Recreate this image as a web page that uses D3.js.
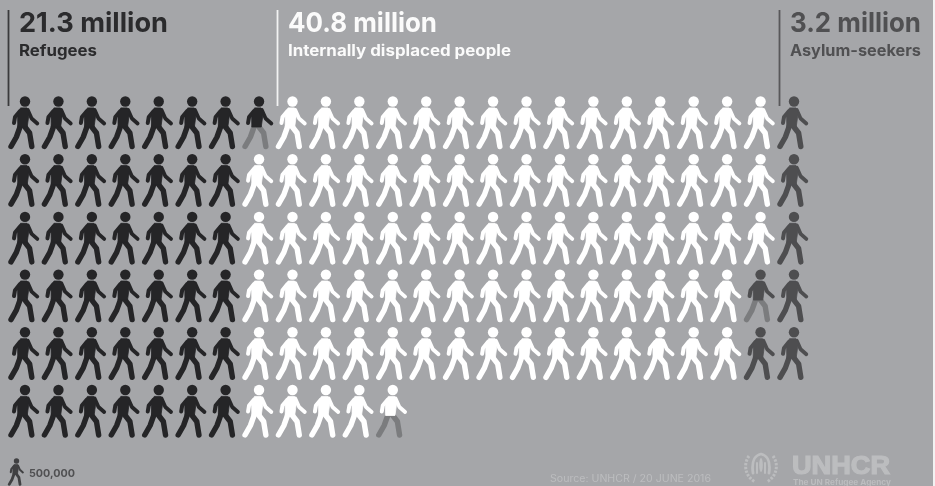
<!DOCTYPE html>
<html><head><meta charset="utf-8">
<script src="https://cdn.jsdelivr.net/npm/d3@7/dist/d3.min.js"></script>
<style>html,body{margin:0;padding:0;background:#a5a6a9;overflow:hidden}svg{display:block;filter:blur(0.45px)}</style>
</head><body><svg id="c" width="935" height="486"></svg>
<script>
// One figure = 500,000 people. Counts per row, left to right.
const rowIds = [0,1,2,3,4,5];
const refugeesFull    = [7,7,7,7,7,7];
const refugeesPartial = [1,0,0,0,0,0];
const idpFull         = [15,16,16,15,15,4];
const idpPartial      = [0,0,0,0,0,1];
const asylumPartial   = [0,0,0,1,0,0];
const asylumFull      = [1,1,1,1,2,0];
const columnCount = 24;
const headlines = ["21.3 million","40.8 million","3.2 million"];
const groupLabels = ["Refugees","Internally displaced people","Asylum-seekers"];
const legendLabel = "500,000";
const sourceLabel = "Source: UNHCR / 20 JUNE 2016";

const styles = {
  refugee:{top:"#252527",legs:"#252527"},
  refugeePart:{top:"#252527",legs:"#7b7c7e"},
  idp:{top:"#ffffff",legs:"#ffffff"},
  idpPart:{top:"#ffffff",legs:"#7b7c7e"},
  asylum:{top:"#4e4e50",legs:"#4e4e50"},
  asylumPart:{top:"#4e4e50",legs:"#7b7c7e"}
};
const cells=[];
rowIds.forEach(r=>{
  let c=0;
  const push=(n,t)=>{for(let i=0;i<n;i++)cells.push({row:r,col:c++,type:t});};
  push(refugeesFull[r],"refugee");
  push(refugeesPartial[r],"refugeePart");
  push(idpFull[r],"idp");
  push(idpPartial[r],"idpPart");
  push(asylumPartial[r],"asylumPart");
  push(asylumFull[r],"asylum");
});

const svg=d3.select("#c");
svg.append("rect").attr("width",935).attr("height",486).attr("fill","#a5a6a9");
svg.append("rect").attr("x",933).attr("width",2).attr("height",486).attr("fill","#f2f2f2");

const x=d3.scalePoint().domain(d3.range(columnCount)).range([25,794]);
const y=d3.scalePoint().domain(rowIds).range([101.5,390]);
const line=d3.line().curve(d3.curveLinear);

function figure(g,s){
  g.append("circle").attr("r",5.2).attr("fill",s.top);
  const limb=(pts,w,col)=>g.append("path").attr("d",line(pts)).attr("fill","none")
    .attr("stroke",col).attr("stroke-width",w).attr("stroke-linecap","round").attr("stroke-linejoin","round");
  // legs
  limb([[-4.5,24],[-8.6,35.5],[-14,45]],5.4,s.legs);
  limb([[-1.2,24],[4.6,31.5],[6.8,45]],5.4,s.legs);
  // arms
  limb([[-5,9.5],[-10,15.6],[-11,21.5]],4,s.top);
  limb([[2.8,8.5],[6.6,17],[12.3,22]],3.8,s.top);
  // torso
  g.append("path").attr("d","M-4.5,6.4 L2,6.4 L4.2,11 L2.2,25.5 L-7.2,25.5 L-7.4,13 Z").attr("fill",s.top)
   .attr("stroke",s.top).attr("stroke-width",.8).attr("stroke-linejoin","round");
}
svg.append("g").selectAll("g").data(cells).join("g")
  .attr("transform",d=>`translate(${x(d.col)},${y(d.row)})`)
  .each(function(d){figure(d3.select(this),styles[d.type]);});

const font="Inter, 'Noto Sans', sans-serif";
const heads=[{x:8,c:"#2b2b2d",l:"#3a3a3c",w1:149,w2:78},{x:277,c:"#fbfbfb",l:"#f2f2f2",w1:149,w2:223},{x:779,c:"#505052",l:"#58585a",w1:131,w2:131}];
heads.forEach((h,i)=>{
  svg.append("line").attr("x1",h.x+.5).attr("x2",h.x+.5).attr("y1",10).attr("y2",106).attr("stroke",h.l).attr("stroke-width",1.8);
  svg.append("text").attr("x",h.x+11).attr("y",32).attr("font-family",font).attr("font-weight",700)
    .attr("font-size",27.5).attr("fill",h.c).attr("textLength",h.w1).attr("lengthAdjust","spacingAndGlyphs").text(headlines[i]);
  svg.append("text").attr("x",h.x+11).attr("y",55.5).attr("font-family",font).attr("font-weight",700)
    .attr("font-size",15.5).attr("fill",h.c).attr("textLength",h.w2).attr("lengthAdjust","spacingAndGlyphs").text(groupLabels[i]);
});

// legend
const lg=svg.append("g").attr("transform","translate(16.5,461) scale(.52)");
figure(lg,{top:"#404042",legs:"#404042"});
svg.append("text").attr("x",29).attr("y",477).attr("font-family",font).attr("font-weight",700)
  .attr("font-size",11).attr("fill","#505052").attr("textLength",46).attr("lengthAdjust","spacingAndGlyphs").text(legendLabel);

// source and logo
const pale="#bcbdbf";
svg.append("text").attr("x",550).attr("y",482).attr("font-family",font)
  .attr("font-size",10).attr("fill",pale).attr("textLength",161).attr("lengthAdjust","spacingAndGlyphs").text(sourceLabel);
svg.append("text").attr("x",792).attr("y",473.5).attr("font-family","'Liberation Sans',sans-serif").attr("font-weight",700)
  .attr("font-size",25).attr("stroke",pale).attr("stroke-width",1.2).attr("fill",pale).attr("textLength",98).attr("lengthAdjust","spacingAndGlyphs").text("UNHCR");
svg.append("text").attr("x",793).attr("y",485).attr("font-family",font).attr("font-weight",700)
  .attr("font-size",7.5).attr("fill",pale).attr("textLength",98).attr("lengthAdjust","spacingAndGlyphs").text("The UN Refugee Agency");
const e=svg.append("g").attr("transform","translate(761,468)").attr("fill","none").attr("stroke",pale).attr("stroke-linecap","round");
e.append("path").attr("d","M-12,-12 C-18,-4 -16,8 -6,14").attr("stroke-width",3).attr("stroke-dasharray","2.4 1.4").attr("stroke-linecap","butt");
e.append("path").attr("d","M12,-12 C18,-4 16,8 6,14").attr("stroke-width",3).attr("stroke-dasharray","2.4 1.4").attr("stroke-linecap","butt");
e.append("path").attr("d","M-8,5 C-10,-8 -5,-13 0,-14 C5,-13 10,-8 8,5").attr("stroke-width",2.8);
e.append("path").attr("d","M-4,5 L-4,-5 M4,5 L4,-5").attr("stroke-width",2);
e.append("ellipse").attr("cy",-3).attr("rx",1.8).attr("ry",7).attr("fill",pale).attr("stroke","none");
</script></body></html>
